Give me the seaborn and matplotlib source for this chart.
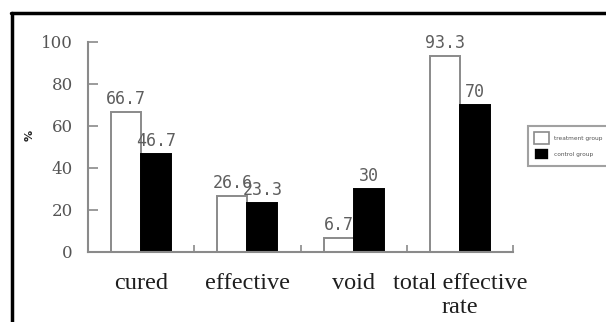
import matplotlib
matplotlib.use("Agg")
import matplotlib.pyplot as plt
from matplotlib.lines import Line2D
import seaborn as sns
import pandas as pd

# Outcome categories and percentage rates per group
categories = ["cured", "effective", "void", "total effective\nrate"]
groups = ["treatment group", "control group"]
treatment_rates = [66.7, 26.6, 6.7, 93.3]
control_rates = [46.7, 23.3, 30, 70]
treatment_labels = ["66.7", "26.6", "6.7", "93.3"]
control_labels = ["46.7", "23.3", "30", "70"]
y_ticks = [0, 20, 40, 60, 80, 100]

df = pd.DataFrame({
    "category": categories * 2,
    "group": [groups[0]] * 4 + [groups[1]] * 4,
    "rate": treatment_rates + control_rates,
})

sns.set_theme(style="white")
plt.rcParams["font.family"] = ["DejaVu Sans"]

W, H = 606, 322
fig = plt.figure(figsize=(W / 100, H / 100), dpi=100)
ax = fig.add_axes([88 / W, 1 - 252 / H, 425 / W, 210 / H])

sns.barplot(data=df, x="category", y="rate", hue="group", order=categories,
            hue_order=groups, palette=["white", "black"], width=0.566,
            saturation=1, errorbar=None, legend=True, ax=ax)

axis_grey = "#8a8a8a"
for cont, edge, labels in zip(ax.containers, [axis_grey, "black"],
                              [treatment_labels, control_labels]):
    for bar in cont:
        bar.set_edgecolor(edge)
        bar.set_linewidth(1.4)
    ax.bar_label(cont, labels=labels, padding=3, color="#5e5e5e",
                 fontsize=12, family="DejaVu Sans Mono")

ax.set_xlim(-0.5, 3.5)
ax.set_ylim(0, 100)
ax.set_yticks(y_ticks)
ax.set_yticklabels([str(v) for v in y_ticks], family="DejaVu Serif",
                   fontsize=12, color="#555555")
ax.set_xticks(range(len(categories)))
ax.set_xticklabels(categories, family="Liberation Serif", fontsize=17.5,
                   color="#1e1e1e", linespacing=1.2)
ax.set_xticks([0.5, 1.5, 2.5, 3.5], minor=True)
ax.tick_params(axis="x", which="major", length=0, pad=15)
ax.tick_params(axis="x", which="minor", direction="in", length=5,
               width=1.2, color=axis_grey, bottom=True)
ax.tick_params(axis="y", direction="in", length=7, width=1.2,
               color=axis_grey, pad=11, left=True)
ax.set_xlabel("")
ax.set_ylabel("")

for side in ["top", "right"]:
    ax.spines[side].set_visible(False)
for side in ["left", "bottom"]:
    ax.spines[side].set_color(axis_grey)
    ax.spines[side].set_linewidth(1.5)

fig.text(30 / W, 1 - 135 / H, "%", rotation=90, ha="center", va="center",
         fontsize=8, fontweight="bold", color="#222222")

handles, labels = ax.get_legend_handles_labels()
ax.get_legend().remove()
for h in handles:
    h.set_linewidth(1.2)
handles[0].set_edgecolor(axis_grey)
fig.legend(handles, labels, loc="upper left",
           bbox_to_anchor=(525 / W, 1 - 123 / H), fontsize=4.2,
           frameon=True, fancybox=False, edgecolor=axis_grey,
           handlelength=2.6, handleheight=2.6, handletextpad=0.8,
           borderpad=1.1, labelspacing=0.8, labelcolor="#555555")
fig.legends[0].get_frame().set_linewidth(1.5)

# Black frame lines along the top and left edges
fig.add_artist(Line2D([12 / W, 12 / W], [0, 1 - 13 / H], color="black",
                      linewidth=2.5))
fig.add_artist(Line2D([11 / W, 1], [1 - 13 / H, 1 - 13 / H], color="black",
                      linewidth=2.5))

fig.savefig("out.png", dpi=100)
